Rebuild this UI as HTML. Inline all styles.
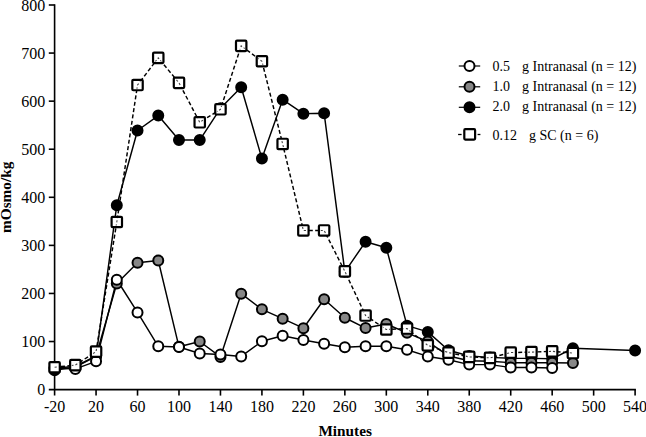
<!DOCTYPE html>
<html><head><meta charset="utf-8"><style>
html,body{margin:0;padding:0;background:#fff;}
svg{display:block;}
text{font-family:"Liberation Serif",serif;}
</style></head><body>
<svg width="646" height="437" viewBox="0 0 646 437" font-family="Liberation Serif, serif" font-size="16" fill="#000">
<rect width="646" height="437" fill="#fff"/>
<line x1="54.60" y1="4.20" x2="54.60" y2="395.60" stroke="#000" stroke-width="1.6"/>
<line x1="48.80" y1="389.60" x2="635.90" y2="389.60" stroke="#000" stroke-width="1.6"/>
<line x1="48.80" y1="341.53" x2="54.60" y2="341.53" stroke="#000" stroke-width="1.6"/>
<line x1="48.80" y1="293.45" x2="54.60" y2="293.45" stroke="#000" stroke-width="1.6"/>
<line x1="48.80" y1="245.38" x2="54.60" y2="245.38" stroke="#000" stroke-width="1.6"/>
<line x1="48.80" y1="197.30" x2="54.60" y2="197.30" stroke="#000" stroke-width="1.6"/>
<line x1="48.80" y1="149.23" x2="54.60" y2="149.23" stroke="#000" stroke-width="1.6"/>
<line x1="48.80" y1="101.15" x2="54.60" y2="101.15" stroke="#000" stroke-width="1.6"/>
<line x1="48.80" y1="53.07" x2="54.60" y2="53.07" stroke="#000" stroke-width="1.6"/>
<line x1="48.80" y1="5.00" x2="54.60" y2="5.00" stroke="#000" stroke-width="1.6"/>
<line x1="96.06" y1="389.60" x2="96.06" y2="395.60" stroke="#000" stroke-width="1.6"/>
<line x1="137.53" y1="389.60" x2="137.53" y2="395.60" stroke="#000" stroke-width="1.6"/>
<line x1="178.99" y1="389.60" x2="178.99" y2="395.60" stroke="#000" stroke-width="1.6"/>
<line x1="220.46" y1="389.60" x2="220.46" y2="395.60" stroke="#000" stroke-width="1.6"/>
<line x1="261.92" y1="389.60" x2="261.92" y2="395.60" stroke="#000" stroke-width="1.6"/>
<line x1="303.39" y1="389.60" x2="303.39" y2="395.60" stroke="#000" stroke-width="1.6"/>
<line x1="344.85" y1="389.60" x2="344.85" y2="395.60" stroke="#000" stroke-width="1.6"/>
<line x1="386.32" y1="389.60" x2="386.32" y2="395.60" stroke="#000" stroke-width="1.6"/>
<line x1="427.78" y1="389.60" x2="427.78" y2="395.60" stroke="#000" stroke-width="1.6"/>
<line x1="469.24" y1="389.60" x2="469.24" y2="395.60" stroke="#000" stroke-width="1.6"/>
<line x1="510.71" y1="389.60" x2="510.71" y2="395.60" stroke="#000" stroke-width="1.6"/>
<line x1="552.17" y1="389.60" x2="552.17" y2="395.60" stroke="#000" stroke-width="1.6"/>
<line x1="593.64" y1="389.60" x2="593.64" y2="395.60" stroke="#000" stroke-width="1.6"/>
<line x1="635.10" y1="389.60" x2="635.10" y2="395.60" stroke="#000" stroke-width="1.6"/>
<text x="45.2" y="395.10" text-anchor="end">0</text>
<text x="45.2" y="347.03" text-anchor="end">100</text>
<text x="45.2" y="298.95" text-anchor="end">200</text>
<text x="45.2" y="250.88" text-anchor="end">300</text>
<text x="45.2" y="202.80" text-anchor="end">400</text>
<text x="45.2" y="154.73" text-anchor="end">500</text>
<text x="45.2" y="106.65" text-anchor="end">600</text>
<text x="45.2" y="58.57" text-anchor="end">700</text>
<text x="45.2" y="10.50" text-anchor="end">800</text>
<text x="54.60" y="411.8" text-anchor="middle">-20</text>
<text x="96.06" y="411.8" text-anchor="middle">20</text>
<text x="137.53" y="411.8" text-anchor="middle">60</text>
<text x="178.99" y="411.8" text-anchor="middle">100</text>
<text x="220.46" y="411.8" text-anchor="middle">140</text>
<text x="261.92" y="411.8" text-anchor="middle">180</text>
<text x="303.39" y="411.8" text-anchor="middle">220</text>
<text x="344.85" y="411.8" text-anchor="middle">260</text>
<text x="386.32" y="411.8" text-anchor="middle">300</text>
<text x="427.78" y="411.8" text-anchor="middle">340</text>
<text x="469.24" y="411.8" text-anchor="middle">380</text>
<text x="510.71" y="411.8" text-anchor="middle">420</text>
<text x="552.17" y="411.8" text-anchor="middle">460</text>
<text x="593.64" y="411.8" text-anchor="middle">500</text>
<text x="635.10" y="411.8" text-anchor="middle">540</text>
<text transform="translate(10.8,197.3) rotate(-90)" text-anchor="middle" font-weight="bold" font-size="15.3">mOsmo/kg</text>
<text x="345.2" y="435.8" text-anchor="middle" font-weight="bold" font-size="15.3">Minutes</text>
<g fill="none" stroke="#000" stroke-width="1.45" stroke-linejoin="round">
<polyline points="54.60,367.97 75.33,366.52 96.06,355.95 116.80,283.59 137.53,262.68 158.26,260.52 178.99,346.81 199.73,341.53 220.46,356.91 241.19,293.69 261.92,309.31 282.65,318.69 303.39,328.21 324.12,299.22 344.85,317.73 365.58,328.06 386.32,323.98 407.05,332.87 427.78,341.53 448.51,355.95 469.24,360.75 489.98,361.24 510.71,362.68 531.44,362.68 552.17,362.68 572.91,362.92"/>
<polyline points="54.60,370.37 75.33,367.00 96.06,356.43 116.80,205.23 137.53,130.48 158.26,115.57 178.99,140.09 199.73,140.09 220.46,108.36 241.19,87.21 261.92,158.60 282.65,99.71 303.39,113.65 324.12,113.17 344.85,271.82 365.58,241.72 386.32,247.78 407.05,325.66 427.78,331.91 448.51,350.18 469.24,355.95 489.98,357.39 510.71,358.35 531.44,358.35 552.17,358.83 572.91,348.26 635.10,350.42"/>
<polyline points="54.60,367.97 75.33,368.93 96.06,361.33 116.80,279.75 137.53,312.39 158.26,346.33 178.99,347.01 199.73,353.54 220.46,354.51 241.19,356.43 261.92,341.28 282.65,335.76 303.39,340.08 324.12,343.69 344.85,347.29 365.58,346.33 386.32,346.33 407.05,349.70 427.78,356.43 448.51,359.79 469.24,364.60 489.98,364.60 510.71,367.49 531.44,367.49 552.17,367.97"/>
<polyline points="54.60,367.25 75.33,365.08 96.06,351.62 116.80,222.01 137.53,85.04 158.26,57.88 178.99,82.88 199.73,122.30 220.46,109.32 241.19,45.86 261.92,61.25 282.65,143.94 303.39,230.47 324.12,230.47 344.85,271.34 365.58,315.56 386.32,329.51 407.05,328.54 427.78,345.37 448.51,352.58 469.24,356.91 489.98,357.87 510.71,352.58 531.44,352.10 552.17,351.33 572.91,353.06" stroke-dasharray="4,2.4"/>
</g>
<circle cx="54.60" cy="370.37" r="5.0" fill="#000" stroke="#000" stroke-width="2.0"/>
<circle cx="75.33" cy="367.00" r="5.0" fill="#000" stroke="#000" stroke-width="2.0"/>
<circle cx="96.06" cy="356.43" r="5.0" fill="#000" stroke="#000" stroke-width="2.0"/>
<circle cx="116.80" cy="205.23" r="5.0" fill="#000" stroke="#000" stroke-width="2.0"/>
<circle cx="137.53" cy="130.48" r="5.0" fill="#000" stroke="#000" stroke-width="2.0"/>
<circle cx="158.26" cy="115.57" r="5.0" fill="#000" stroke="#000" stroke-width="2.0"/>
<circle cx="178.99" cy="140.09" r="5.0" fill="#000" stroke="#000" stroke-width="2.0"/>
<circle cx="199.73" cy="140.09" r="5.0" fill="#000" stroke="#000" stroke-width="2.0"/>
<circle cx="220.46" cy="108.36" r="5.0" fill="#000" stroke="#000" stroke-width="2.0"/>
<circle cx="241.19" cy="87.21" r="5.0" fill="#000" stroke="#000" stroke-width="2.0"/>
<circle cx="261.92" cy="158.60" r="5.0" fill="#000" stroke="#000" stroke-width="2.0"/>
<circle cx="282.65" cy="99.71" r="5.0" fill="#000" stroke="#000" stroke-width="2.0"/>
<circle cx="303.39" cy="113.65" r="5.0" fill="#000" stroke="#000" stroke-width="2.0"/>
<circle cx="324.12" cy="113.17" r="5.0" fill="#000" stroke="#000" stroke-width="2.0"/>
<circle cx="344.85" cy="271.82" r="5.0" fill="#000" stroke="#000" stroke-width="2.0"/>
<circle cx="365.58" cy="241.72" r="5.0" fill="#000" stroke="#000" stroke-width="2.0"/>
<circle cx="386.32" cy="247.78" r="5.0" fill="#000" stroke="#000" stroke-width="2.0"/>
<circle cx="407.05" cy="325.66" r="5.0" fill="#000" stroke="#000" stroke-width="2.0"/>
<circle cx="427.78" cy="331.91" r="5.0" fill="#000" stroke="#000" stroke-width="2.0"/>
<circle cx="448.51" cy="350.18" r="5.0" fill="#000" stroke="#000" stroke-width="2.0"/>
<circle cx="469.24" cy="355.95" r="5.0" fill="#000" stroke="#000" stroke-width="2.0"/>
<circle cx="489.98" cy="357.39" r="5.0" fill="#000" stroke="#000" stroke-width="2.0"/>
<circle cx="510.71" cy="358.35" r="5.0" fill="#000" stroke="#000" stroke-width="2.0"/>
<circle cx="531.44" cy="358.35" r="5.0" fill="#000" stroke="#000" stroke-width="2.0"/>
<circle cx="552.17" cy="358.83" r="5.0" fill="#000" stroke="#000" stroke-width="2.0"/>
<circle cx="572.91" cy="348.26" r="5.0" fill="#000" stroke="#000" stroke-width="2.0"/>
<circle cx="635.10" cy="350.42" r="5.0" fill="#000" stroke="#000" stroke-width="2.0"/>
<circle cx="54.60" cy="367.97" r="5.0" fill="#878787" stroke="#000" stroke-width="2.0"/>
<circle cx="75.33" cy="366.52" r="5.0" fill="#878787" stroke="#000" stroke-width="2.0"/>
<circle cx="96.06" cy="355.95" r="5.0" fill="#878787" stroke="#000" stroke-width="2.0"/>
<circle cx="116.80" cy="283.59" r="5.0" fill="#878787" stroke="#000" stroke-width="2.0"/>
<circle cx="137.53" cy="262.68" r="5.0" fill="#878787" stroke="#000" stroke-width="2.0"/>
<circle cx="158.26" cy="260.52" r="5.0" fill="#878787" stroke="#000" stroke-width="2.0"/>
<circle cx="178.99" cy="346.81" r="5.0" fill="#878787" stroke="#000" stroke-width="2.0"/>
<circle cx="199.73" cy="341.53" r="5.0" fill="#878787" stroke="#000" stroke-width="2.0"/>
<circle cx="220.46" cy="356.91" r="5.0" fill="#878787" stroke="#000" stroke-width="2.0"/>
<circle cx="241.19" cy="293.69" r="5.0" fill="#878787" stroke="#000" stroke-width="2.0"/>
<circle cx="261.92" cy="309.31" r="5.0" fill="#878787" stroke="#000" stroke-width="2.0"/>
<circle cx="282.65" cy="318.69" r="5.0" fill="#878787" stroke="#000" stroke-width="2.0"/>
<circle cx="303.39" cy="328.21" r="5.0" fill="#878787" stroke="#000" stroke-width="2.0"/>
<circle cx="324.12" cy="299.22" r="5.0" fill="#878787" stroke="#000" stroke-width="2.0"/>
<circle cx="344.85" cy="317.73" r="5.0" fill="#878787" stroke="#000" stroke-width="2.0"/>
<circle cx="365.58" cy="328.06" r="5.0" fill="#878787" stroke="#000" stroke-width="2.0"/>
<circle cx="386.32" cy="323.98" r="5.0" fill="#878787" stroke="#000" stroke-width="2.0"/>
<circle cx="407.05" cy="332.87" r="5.0" fill="#878787" stroke="#000" stroke-width="2.0"/>
<circle cx="427.78" cy="341.53" r="5.0" fill="#878787" stroke="#000" stroke-width="2.0"/>
<circle cx="448.51" cy="355.95" r="5.0" fill="#878787" stroke="#000" stroke-width="2.0"/>
<circle cx="469.24" cy="360.75" r="5.0" fill="#878787" stroke="#000" stroke-width="2.0"/>
<circle cx="489.98" cy="361.24" r="5.0" fill="#878787" stroke="#000" stroke-width="2.0"/>
<circle cx="510.71" cy="362.68" r="5.0" fill="#878787" stroke="#000" stroke-width="2.0"/>
<circle cx="531.44" cy="362.68" r="5.0" fill="#878787" stroke="#000" stroke-width="2.0"/>
<circle cx="552.17" cy="362.68" r="5.0" fill="#878787" stroke="#000" stroke-width="2.0"/>
<circle cx="572.91" cy="362.92" r="5.0" fill="#878787" stroke="#000" stroke-width="2.0"/>
<circle cx="54.60" cy="367.97" r="5.0" fill="#fff" stroke="#000" stroke-width="2.0"/>
<circle cx="75.33" cy="368.93" r="5.0" fill="#fff" stroke="#000" stroke-width="2.0"/>
<circle cx="96.06" cy="361.33" r="5.0" fill="#fff" stroke="#000" stroke-width="2.0"/>
<circle cx="116.80" cy="279.75" r="5.0" fill="#fff" stroke="#000" stroke-width="2.0"/>
<circle cx="137.53" cy="312.39" r="5.0" fill="#fff" stroke="#000" stroke-width="2.0"/>
<circle cx="158.26" cy="346.33" r="5.0" fill="#fff" stroke="#000" stroke-width="2.0"/>
<circle cx="178.99" cy="347.01" r="5.0" fill="#fff" stroke="#000" stroke-width="2.0"/>
<circle cx="199.73" cy="353.54" r="5.0" fill="#fff" stroke="#000" stroke-width="2.0"/>
<circle cx="220.46" cy="354.51" r="5.0" fill="#fff" stroke="#000" stroke-width="2.0"/>
<circle cx="241.19" cy="356.43" r="5.0" fill="#fff" stroke="#000" stroke-width="2.0"/>
<circle cx="261.92" cy="341.28" r="5.0" fill="#fff" stroke="#000" stroke-width="2.0"/>
<circle cx="282.65" cy="335.76" r="5.0" fill="#fff" stroke="#000" stroke-width="2.0"/>
<circle cx="303.39" cy="340.08" r="5.0" fill="#fff" stroke="#000" stroke-width="2.0"/>
<circle cx="324.12" cy="343.69" r="5.0" fill="#fff" stroke="#000" stroke-width="2.0"/>
<circle cx="344.85" cy="347.29" r="5.0" fill="#fff" stroke="#000" stroke-width="2.0"/>
<circle cx="365.58" cy="346.33" r="5.0" fill="#fff" stroke="#000" stroke-width="2.0"/>
<circle cx="386.32" cy="346.33" r="5.0" fill="#fff" stroke="#000" stroke-width="2.0"/>
<circle cx="407.05" cy="349.70" r="5.0" fill="#fff" stroke="#000" stroke-width="2.0"/>
<circle cx="427.78" cy="356.43" r="5.0" fill="#fff" stroke="#000" stroke-width="2.0"/>
<circle cx="448.51" cy="359.79" r="5.0" fill="#fff" stroke="#000" stroke-width="2.0"/>
<circle cx="469.24" cy="364.60" r="5.0" fill="#fff" stroke="#000" stroke-width="2.0"/>
<circle cx="489.98" cy="364.60" r="5.0" fill="#fff" stroke="#000" stroke-width="2.0"/>
<circle cx="510.71" cy="367.49" r="5.0" fill="#fff" stroke="#000" stroke-width="2.0"/>
<circle cx="531.44" cy="367.49" r="5.0" fill="#fff" stroke="#000" stroke-width="2.0"/>
<circle cx="552.17" cy="367.97" r="5.0" fill="#fff" stroke="#000" stroke-width="2.0"/>
<rect x="49.40" y="362.05" width="10.4" height="10.4" rx="1" fill="#fff" stroke="#000" stroke-width="2.2"/>
<rect x="70.13" y="359.88" width="10.4" height="10.4" rx="1" fill="#fff" stroke="#000" stroke-width="2.2"/>
<rect x="90.86" y="346.42" width="10.4" height="10.4" rx="1" fill="#fff" stroke="#000" stroke-width="2.2"/>
<rect x="111.60" y="216.81" width="10.4" height="10.4" rx="1" fill="#fff" stroke="#000" stroke-width="2.2"/>
<rect x="132.33" y="79.84" width="10.4" height="10.4" rx="1" fill="#fff" stroke="#000" stroke-width="2.2"/>
<rect x="153.06" y="52.68" width="10.4" height="10.4" rx="1" fill="#fff" stroke="#000" stroke-width="2.2"/>
<rect x="173.79" y="77.68" width="10.4" height="10.4" rx="1" fill="#fff" stroke="#000" stroke-width="2.2"/>
<rect x="194.53" y="117.10" width="10.4" height="10.4" rx="1" fill="#fff" stroke="#000" stroke-width="2.2"/>
<rect x="215.26" y="104.12" width="10.4" height="10.4" rx="1" fill="#fff" stroke="#000" stroke-width="2.2"/>
<rect x="235.99" y="40.66" width="10.4" height="10.4" rx="1" fill="#fff" stroke="#000" stroke-width="2.2"/>
<rect x="256.72" y="56.05" width="10.4" height="10.4" rx="1" fill="#fff" stroke="#000" stroke-width="2.2"/>
<rect x="277.45" y="138.74" width="10.4" height="10.4" rx="1" fill="#fff" stroke="#000" stroke-width="2.2"/>
<rect x="298.19" y="225.27" width="10.4" height="10.4" rx="1" fill="#fff" stroke="#000" stroke-width="2.2"/>
<rect x="318.92" y="225.27" width="10.4" height="10.4" rx="1" fill="#fff" stroke="#000" stroke-width="2.2"/>
<rect x="339.65" y="266.14" width="10.4" height="10.4" rx="1" fill="#fff" stroke="#000" stroke-width="2.2"/>
<rect x="360.38" y="310.36" width="10.4" height="10.4" rx="1" fill="#fff" stroke="#000" stroke-width="2.2"/>
<rect x="381.12" y="324.31" width="10.4" height="10.4" rx="1" fill="#fff" stroke="#000" stroke-width="2.2"/>
<rect x="401.85" y="323.34" width="10.4" height="10.4" rx="1" fill="#fff" stroke="#000" stroke-width="2.2"/>
<rect x="422.58" y="340.17" width="10.4" height="10.4" rx="1" fill="#fff" stroke="#000" stroke-width="2.2"/>
<rect x="443.31" y="347.38" width="10.4" height="10.4" rx="1" fill="#fff" stroke="#000" stroke-width="2.2"/>
<rect x="464.04" y="351.71" width="10.4" height="10.4" rx="1" fill="#fff" stroke="#000" stroke-width="2.2"/>
<rect x="484.78" y="352.67" width="10.4" height="10.4" rx="1" fill="#fff" stroke="#000" stroke-width="2.2"/>
<rect x="505.51" y="347.38" width="10.4" height="10.4" rx="1" fill="#fff" stroke="#000" stroke-width="2.2"/>
<rect x="526.24" y="346.90" width="10.4" height="10.4" rx="1" fill="#fff" stroke="#000" stroke-width="2.2"/>
<rect x="546.97" y="346.13" width="10.4" height="10.4" rx="1" fill="#fff" stroke="#000" stroke-width="2.2"/>
<rect x="567.71" y="347.86" width="10.4" height="10.4" rx="1" fill="#fff" stroke="#000" stroke-width="2.2"/>
<defs><clipPath id="sqin"><rect x="51.00" y="363.65" width="7.2" height="7.2"/><rect x="71.73" y="361.48" width="7.2" height="7.2"/><rect x="92.46" y="348.02" width="7.2" height="7.2"/><rect x="113.20" y="218.41" width="7.2" height="7.2"/><rect x="133.93" y="81.44" width="7.2" height="7.2"/><rect x="154.66" y="54.28" width="7.2" height="7.2"/><rect x="175.39" y="79.28" width="7.2" height="7.2"/><rect x="196.13" y="118.70" width="7.2" height="7.2"/><rect x="216.86" y="105.72" width="7.2" height="7.2"/><rect x="237.59" y="42.26" width="7.2" height="7.2"/><rect x="258.32" y="57.65" width="7.2" height="7.2"/><rect x="279.05" y="140.34" width="7.2" height="7.2"/><rect x="299.79" y="226.87" width="7.2" height="7.2"/><rect x="320.52" y="226.87" width="7.2" height="7.2"/><rect x="341.25" y="267.74" width="7.2" height="7.2"/><rect x="361.98" y="311.96" width="7.2" height="7.2"/><rect x="382.72" y="325.91" width="7.2" height="7.2"/><rect x="403.45" y="324.94" width="7.2" height="7.2"/><rect x="424.18" y="341.77" width="7.2" height="7.2"/><rect x="444.91" y="348.98" width="7.2" height="7.2"/><rect x="465.64" y="353.31" width="7.2" height="7.2"/><rect x="486.38" y="354.27" width="7.2" height="7.2"/><rect x="507.11" y="348.98" width="7.2" height="7.2"/><rect x="527.84" y="348.50" width="7.2" height="7.2"/><rect x="548.57" y="347.73" width="7.2" height="7.2"/><rect x="569.31" y="349.46" width="7.2" height="7.2"/></clipPath></defs>
<polyline points="54.60,367.25 75.33,365.08 96.06,351.62 116.80,222.01 137.53,85.04 158.26,57.88 178.99,82.88 199.73,122.30 220.46,109.32 241.19,45.86 261.92,61.25 282.65,143.94 303.39,230.47 324.12,230.47 344.85,271.34 365.58,315.56 386.32,329.51 407.05,328.54 427.78,345.37 448.51,352.58 469.24,356.91 489.98,357.87 510.71,352.58 531.44,352.10 552.17,351.33 572.91,353.06" fill="none" stroke="#222" stroke-width="1.1" stroke-dasharray="2.2,2" clip-path="url(#sqin)" opacity="0.85"/>

<g>
<line x1="458.8" y1="66" x2="480.2" y2="66" stroke="#000" stroke-width="1.2"/>
<circle cx="469.5" cy="66" r="5.0" fill="#fff" stroke="#000" stroke-width="2.0"/>
<line x1="458.8" y1="86.8" x2="480.2" y2="86.8" stroke="#000" stroke-width="1.2"/>
<circle cx="469.5" cy="86.8" r="5.0" fill="#878787" stroke="#000" stroke-width="2.0"/>
<line x1="458.8" y1="107.3" x2="480.2" y2="107.3" stroke="#000" stroke-width="1.2"/>
<circle cx="469.5" cy="107.3" r="5.0" fill="#000" stroke="#000" stroke-width="2.0"/>
<line x1="458.1" y1="134.5" x2="461.6" y2="134.5" stroke="#000" stroke-width="1.3"/>
<line x1="477.6" y1="134.5" x2="480.4" y2="134.5" stroke="#000" stroke-width="1.3"/>
<rect x="464.3" y="129.2" width="10.8" height="10.4" rx="1" fill="#fff" stroke="#000" stroke-width="2.2"/>
</g>
<g font-size="14">
<text x="492.5" y="70.5">0.5</text><text x="522" y="70.5">g Intranasal (n = 12)</text>
<text x="492.5" y="91">1.0</text><text x="522" y="91">g Intranasal (n = 12)</text>
<text x="492.5" y="111">2.0</text><text x="522" y="111">g Intranasal (n = 12)</text>
<text x="492.5" y="139.8">0.12</text><text x="529" y="139.8">g SC (n = 6)</text>
</g>

</svg>
</body></html>
